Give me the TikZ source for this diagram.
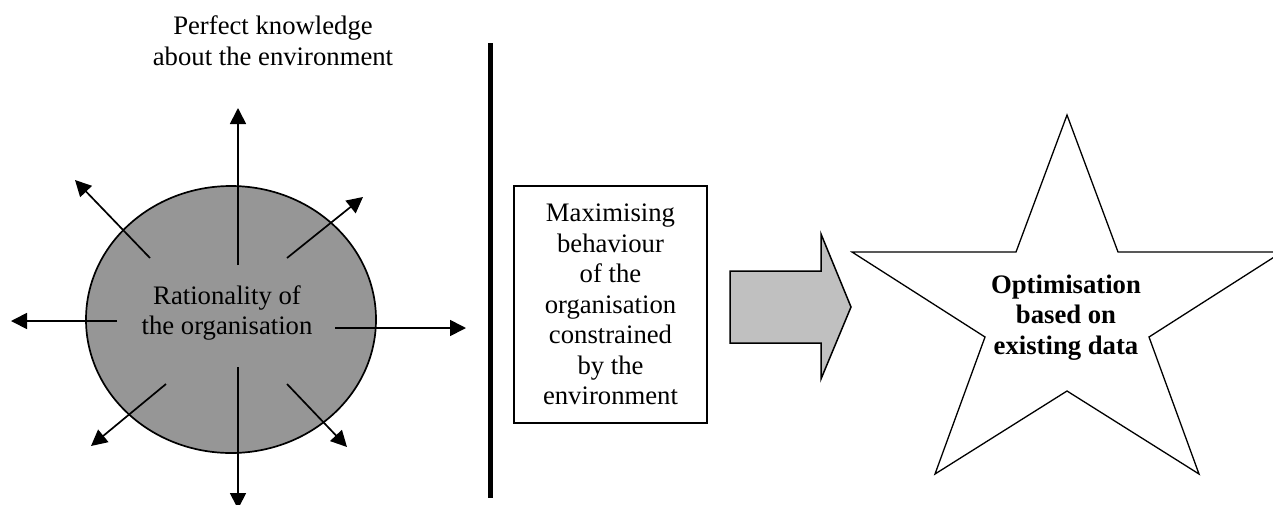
\documentclass[tikz,border=0pt]{standalone}
\usepackage{fontspec}
\setmainfont{Liberation Serif}
\usetikzlibrary{arrows.meta,shapes.geometric}
\definecolor{discgray}{RGB}{150,150,150}
\definecolor{arrowgray}{RGB}{192,192,192}
\tikzset{
  txt/.style={align=center, inner sep=0pt, font=\fontsize{26.7}{30.5}\selectfont},
  ray/.style={line width=1.7pt, -{Triangle[length=16pt,width=16pt]}},
  disc/.style={ellipse, draw, line width=1.7pt, fill=discgray, inner sep=0pt},
  framebox/.style={draw, line width=1.2pt, inner sep=0pt},
}
\begin{document}
\begin{tikzpicture}[x=1pt, y=-1pt]
\useasboundingbox (0,0) rectangle (1273,504);
\clip (0,0) rectangle (1273,504);

% heading
\node[txt] (head) at (273,40.5) {Perfect knowledge\\about the environment};

% the organisation as a disc
\node[disc, minimum width=290pt, minimum height=267pt] (disc) at (231,319.5) {};
\node[txt] (rat) at (227,313) {Rationality of\\the organisation};

% ray end points
\coordinate (nS) at (238,265);   \coordinate (nE) at (238,108);
\coordinate (sS) at (238,367);   \coordinate (sE) at (238,509);
\coordinate (wS) at (117,321);   \coordinate (wE) at (11,321);
\coordinate (eS) at (335,328);   \coordinate (eE) at (466,328);
\coordinate (nwS) at (150,258);  \coordinate (nwE) at (75,180);
\coordinate (neS) at (287,258);  \coordinate (neE) at (363,197);
\coordinate (swS) at (166,384);  \coordinate (swE) at (91,446);
\coordinate (seS) at (287,384);  \coordinate (seE) at (347,447);
\foreach \d in {n,s,w,e,nw,ne,sw,se}
  \draw[ray] (\d S) -- (\d E);

% dividing bar
\coordinate (barT) at (490.7,43);
\coordinate (barB) at (490.7,498);
\draw[line width=5pt] (barT) -- (barB);

% constrained behaviour
\node[framebox, txt, minimum width=193pt, minimum height=237pt] (box) at (610.5,304.5)
  {Maximising\\behaviour\\of the\\organisation\\constrained\\by the\\environment};

% block arrow
\draw[line width=1.5pt, fill=arrowgray, line join=miter]
  (730,271) -- (821,271) -- (821,234) -- (851,307) -- (821,379) -- (821,343) -- (730,343) -- cycle;

% star
\draw[line width=1.3pt, line join=miter]
  (1067,115) -- (1118,252) -- (1282,252) -- (1149,337) -- (1199,474) -- (1067,391)
  -- (935,474) -- (985,337) -- (852,252) -- (1016,252) -- cycle;
\node[txt, font=\fontsize{26.7}{30.5}\selectfont\bfseries] (opt) at (1066,317.5)
  {Optimisation\\based on\\existing data};
\end{tikzpicture}
\end{document}
